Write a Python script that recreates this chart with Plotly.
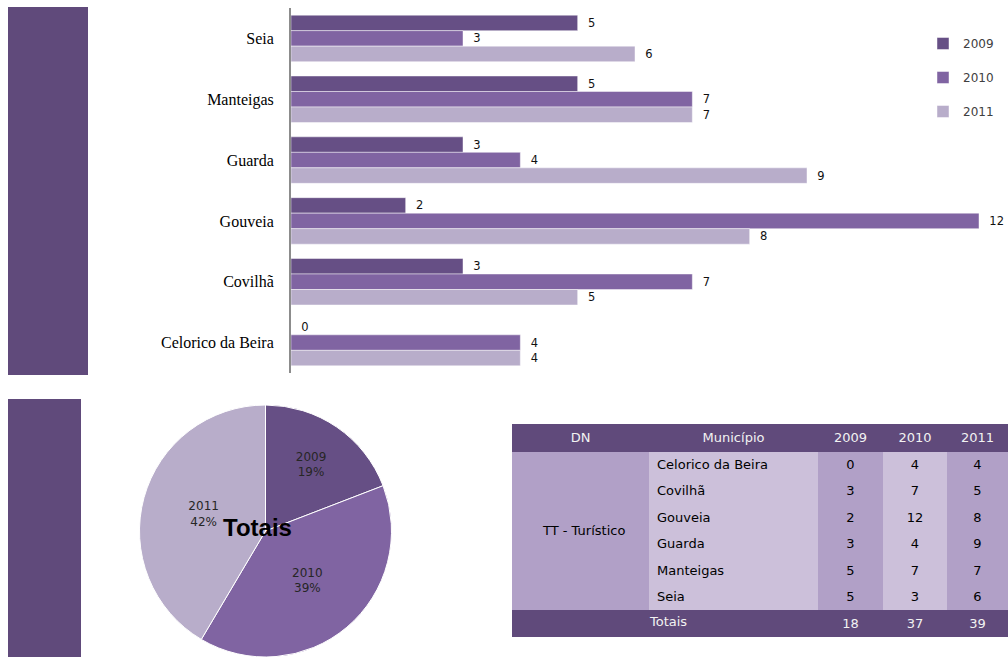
import plotly.graph_objects as go

# ---------------- data ----------------
municipios = ["Celorico da Beira", "Covilhã", "Gouveia", "Guarda", "Manteigas", "Seia"]
years = ["2009", "2010", "2011"]
v2009 = [0, 3, 2, 3, 5, 5]
v2010 = [4, 7, 12, 4, 7, 3]
v2011 = [4, 5, 8, 9, 7, 6]
totais = [18, 37, 39]
pie_pct_labels = ["19%", "39%", "42%"]
dn_label = "TT - Turístico"
header_labels = ["DN", "Município", "2009", "2010", "2011"]
totais_label = "Totais"

# ---------------- styling ----------------
W, H = 1008, 657
C_DARK = "#604A7B"
C_2009 = "#664F85"
C_2010 = "#8064A2"
C_2011 = "#B8ADCA"
C_MID = "#B1A0C7"
C_LIGHT = "#CCC0DA"
series_colors = [C_2009, C_2010, C_2011]


def px(x):
    return x / W


def py(y):
    return 1 - y / H


fig = go.Figure()

# ---------------- bar chart ----------------
for name, vals, col in zip(years, [v2009, v2010, v2011], series_colors):
    fig.add_trace(go.Bar(
        y=municipios, x=vals, name=name, orientation="h",
        marker=dict(color=col, line=dict(color="rgba(255,255,255,0.45)", width=1)),
        text=vals, texttemplate="\u00a0\u00a0%{x}", textposition="outside",
        cliponaxis=False,
        textfont=dict(family="DejaVu Sans", size=11.5, color="#111111"),
        legendgroup=name, hoverinfo="skip",
    ))

# ---------------- pie ----------------
fig.add_trace(go.Pie(
    labels=years, values=totais, text=pie_pct_labels,
    texttemplate="%{label}<br>%{text}", textposition="inside",
    insidetextorientation="horizontal",
    textfont=dict(family="DejaVu Sans", size=12, color="#262626"),
    marker=dict(colors=series_colors, line=dict(color="white", width=1)),
    sort=False, direction="clockwise", rotation=0,
    domain=dict(x=[px(137), px(394)], y=[0, py(405)]),
    showlegend=False, hoverinfo="skip",
))

# ---------------- table ----------------
n = len(municipios)
dn_col = [""] * n + [""]
mun_col = municipios + [""]
c09 = [str(v) for v in v2009] + [str(totais[0])]
c10 = [str(v) for v in v2010] + [str(totais[1])]
c11 = [str(v) for v in v2011] + [str(totais[2])]

col_fills = [C_MID, C_LIGHT, C_MID, C_LIGHT, C_MID]
fills = [[c] * n + [C_DARK] for c in col_fills]
fcolors = [["#000000"] * n + ["#F2F2F2"] for _ in col_fills]

fig.add_trace(go.Table(
    domain=dict(x=[px(512), 1.0], y=[0, py(424)]),
    columnwidth=[137, 169, 65, 64, 61],
    header=dict(
        values=header_labels, fill_color=C_DARK, line=dict(color=C_DARK, width=1),
        font=dict(family="DejaVu Sans", size=13, color="#F2F2F2"),
        align="center", height=27,
    ),
    cells=dict(
        values=[dn_col, mun_col, c09, c10, c11],
        fill=dict(color=fills), line=dict(color=fills, width=1),
        font=dict(family="DejaVu Sans", size=13, color=fcolors),
        align=["center", "left", "center", "center", "center"], height=26.5,
    ),
))

# ---------------- layout ----------------
fig.update_layout(
    width=W, height=H,
    margin=dict(l=0, r=0, t=0, b=0),
    paper_bgcolor="white", plot_bgcolor="white",
    barmode="group", bargap=0.236, bargroupgap=0,
    xaxis=dict(domain=[px(291), px(979)], range=[0, 12], showgrid=False,
               zeroline=False, showticklabels=False, showline=False, fixedrange=True),
    yaxis=dict(domain=[py(373), py(8)], autorange="reversed",
               categoryorder="array", categoryarray=municipios[::-1],
               showgrid=False, zeroline=False, showline=True,
               linecolor="#8C8C8C", linewidth=2,
               ticks="", ticklabelstandoff=12,
               tickfont=dict(family="Liberation Serif", size=16, color="#000000"),
               fixedrange=True),
    legend=dict(x=px(923), y=py(29), xanchor="left", yanchor="top",
                traceorder="grouped", tracegroupgap=15,
                font=dict(family="DejaVu Sans", size=12, color="#404040"),
                bgcolor="rgba(0,0,0,0)"),
    showlegend=True,
    shapes=[
        dict(type="rect", xref="paper", yref="paper", x0=px(8), x1=px(88),
             y0=py(375), y1=py(7), fillcolor=C_DARK, line=dict(width=0), layer="below"),
        dict(type="rect", xref="paper", yref="paper", x0=px(8), x1=px(81),
             y0=0, y1=py(399), fillcolor=C_DARK, line=dict(width=0), layer="below"),
    ],
    annotations=[
        dict(text="<b>Totais</b>", x=px(257), y=py(527), xref="paper", yref="paper",
             xanchor="center", yanchor="middle", showarrow=False,
             font=dict(family="Liberation Sans", size=24, color="#000000")),
        dict(text=dn_label, x=px(583), y=py(530), xref="paper", yref="paper",
             xanchor="center", yanchor="middle", showarrow=False,
             font=dict(family="DejaVu Sans", size=13, color="#000000")),
        dict(text=totais_label, x=px(668), y=py(621), xref="paper", yref="paper",
             xanchor="center", yanchor="middle", showarrow=False,
             font=dict(family="DejaVu Sans", size=13, color="#F2F2F2")),
    ],
)

fig.write_html(
    "out.html",
    config={"displayModeBar": False},
    post_script="document.body.style.margin='0';document.body.style.overflow='hidden';",
)
